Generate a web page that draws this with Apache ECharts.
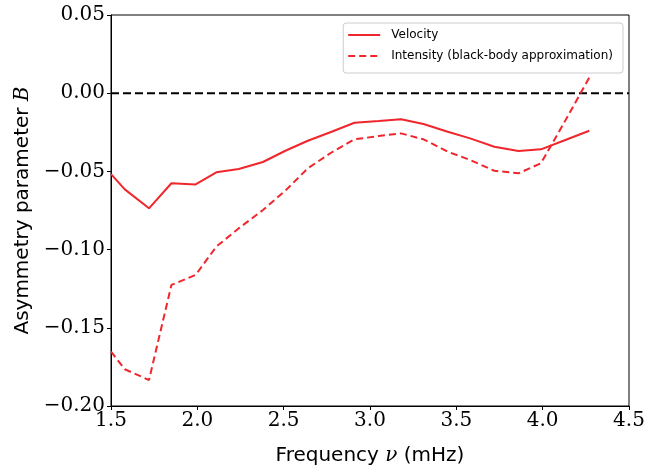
<!DOCTYPE html>
<html><head><meta charset="utf-8">
<script src="https://cdn.jsdelivr.net/npm/echarts@6/dist/echarts.min.js"></script>
<style>html,body{margin:0;padding:0;background:#fff}#c{width:659px;height:468px}</style>
</head><body><div id="c"></div>
<script>
const freq = [1.5, 1.58, 1.72, 1.85, 1.99, 2.11, 2.24, 2.38, 2.51, 2.64, 2.77, 2.91, 3.05, 3.18, 3.31, 3.45, 3.58, 3.72, 3.86, 3.99, 4.12, 4.27];
const velocity = [-0.0517, -0.0615, -0.0736, -0.0576, -0.0583, -0.0506, -0.0485, -0.044, -0.0368, -0.0304, -0.025, -0.0189, -0.0178, -0.0167, -0.0197, -0.0246, -0.0289, -0.0342, -0.037, -0.0359, -0.0304, -0.024];
const intensity = [-0.1653, -0.1765, -0.1834, -0.1226, -0.1162, -0.0981, -0.0864, -0.0747, -0.0623, -0.048, -0.0384, -0.0295, -0.0274, -0.0257, -0.0295, -0.0374, -0.0427, -0.0496, -0.0512, -0.0448, -0.0197, 0.0100];
const zeroLine = [[1.5, 0], [4.5, 0]];
const seriesNames = ['Velocity', 'Intensity (black-body approximation)'];

const red = '#f0262c';
const serif = '"DejaVu Serif",serif';
const sans = '"DejaVu Sans","Noto Sans",sans-serif';
const fmtY = v => (v < 0 ? '\u2212' : '') + Math.abs(v).toFixed(2);

const chart = echarts.init(document.getElementById('c'), null, {renderer: 'canvas'});
chart.setOption({
  animation: false,
  backgroundColor: '#fff',
  grid: {left: 111, right: 30, top: 15, bottom: 62, containLabel: false, outerBoundsMode: 'none',
         show: true, borderColor: '#000', borderWidth: 1, backgroundColor: 'transparent'},
  legend: {
    data: seriesNames,
    orient: 'vertical',
    right: 36, top: 23,
    itemWidth: 32, itemHeight: 10, itemGap: 9,
    padding: [6, 10, 11, 4],
    borderColor: '#ccc', borderWidth: 1, borderRadius: 3,
    backgroundColor: 'rgba(255,255,255,0.8)',
    itemStyle: {opacity: 0},
    textStyle: {fontFamily: sans, fontSize: 12, color: '#000', padding: [0, 0, 0, 6]}
  },
  xAxis: {
    type: 'value', min: 1.5, max: 4.5, interval: 0.5,
    name: 'Frequency {i|\u03bd} (mHz)', nameLocation: 'middle', nameGap: 40,
    nameTextStyle: {fontFamily: sans, fontSize: 20, color: '#000',
      rich: {i: {fontFamily: serif, fontStyle: 'italic', fontSize: 20}}},
    axisLine: {show: true, onZero: false, lineStyle: {color: '#000', width: 1}},
    axisTick: {show: true, length: 4, lineStyle: {color: '#000'}},
    splitLine: {show: false},
    axisLabel: {fontFamily: serif, fontSize: 20, color: '#000', margin: 5, formatter: v => v.toFixed(1)}
  },
  yAxis: {
    type: 'value', min: -0.2, max: 0.05, interval: 0.05,
    name: 'Asymmetry parameter {i|B}', nameLocation: 'middle', nameGap: 76, nameRotate: 90,
    nameTextStyle: {fontFamily: sans, fontSize: 20, color: '#000',
      rich: {i: {fontFamily: serif, fontStyle: 'italic', fontSize: 20}}},
    axisLine: {show: true, onZero: false, lineStyle: {color: '#000', width: 1}},
    axisTick: {show: true, length: 4, lineStyle: {color: '#000'}},
    splitLine: {show: false},
    axisLabel: {fontFamily: serif, fontSize: 20, color: '#000', margin: 6, formatter: fmtY}
  },
  series: [
    {name: 'zero', type: 'line', data: zeroLine, symbol: 'none', silent: true,
     lineStyle: {color: '#000', width: 2, type: [8, 4]}, z: 1},
    {name: seriesNames[0], type: 'line', data: freq.map((f, i) => [f, velocity[i]]),
     symbol: 'none', color: red, lineStyle: {color: red, width: 2}, z: 3},
    {name: seriesNames[1], type: 'line', data: freq.map((f, i) => [f, intensity[i]]),
     symbol: 'none', color: red, lineStyle: {color: red, width: 2, type: [7, 4]}, z: 3}
  ]
});
</script></body></html>
